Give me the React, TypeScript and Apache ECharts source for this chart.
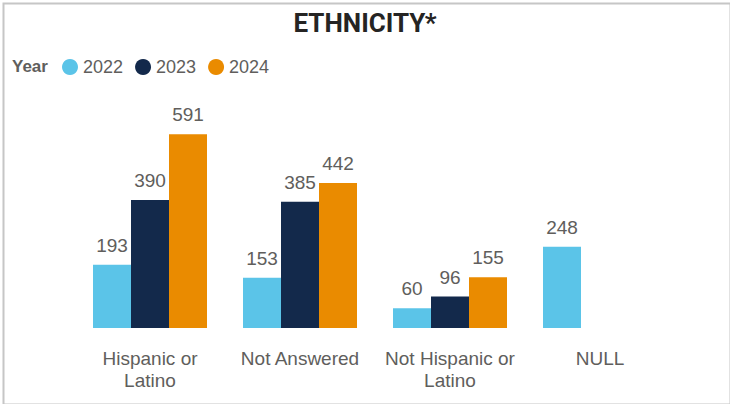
import React, { useEffect, useRef } from "react";
import * as echarts from "echarts";

const categories = ["Hispanic or Latino", "Not Answered", "Not Hispanic or Latino", "NULL"];
const years = ["2022", "2023", "2024"];
const values2022 = [193, 153, 60, 248];
const values2023 = [390, 385, 96, null];
const values2024 = [591, 442, 155, null];
const colors = ["#5bc4e8", "#13294b", "#ea8b00"];

export default function App() {
  const ref = useRef<HTMLDivElement>(null);
  useEffect(() => {
    if (!ref.current) return;
    const chart = echarts.init(ref.current, null, { renderer: "svg" });
    const seriesData = [values2022, values2023, values2024];
    const font = "'Liberation Sans', Arial, sans-serif";
    chart.setOption({
      animation: false,
      backgroundColor: "#ffffff",
      title: {
        text: "ETHNICITY*",
        left: "center",
        top: 5,
        textStyle: { fontFamily: "Roboto, 'Liberation Sans', sans-serif", fontWeight: "bold", fontSize: 26, color: "#252423" },
      },
      graphic: [
        {
          type: "rect",
          left: 1,
          top: 1,
          shape: { x: 0, y: 0, width: 727, height: 401 },
          style: { fill: "none", stroke: "#c6c6c6", lineWidth: 2 },
          silent: true,
        },
        {
          type: "text",
          left: 12,
          top: 58,
          style: { text: "Year", fontFamily: font, fontWeight: "bold", fontSize: 17, fill: "#605e5c" },
        },
      ],
      legend: {
        left: 62,
        top: 58,
        icon: "circle",
        itemWidth: 16,
        itemHeight: 16,
        itemGap: 12,
        textStyle: { fontFamily: font, fontSize: 18, color: "#605e5c", padding: [0, 0, 0, 0] },
        padding: 0,
        data: years,
      },
      grid: { left: 75, right: 55, top: 98.4, bottom: 76 },
      xAxis: {
        type: "category",
        data: categories,
        axisLine: { show: false },
        axisTick: { show: false },
        axisLabel: {
          fontFamily: font,
          fontSize: 19,
          color: "#605e5c",
          lineHeight: 22,
          margin: 19,
          interval: 0,
          formatter: (v: string) => v.replace(" or ", " or\n"),
        },
      },
      yAxis: { type: "value", min: 0, max: 700, show: false, splitLine: { show: false } },
      series: years.map((y, i) => ({
        name: y,
        type: "bar",
        data: seriesData[i],
        barWidth: 38,
        barGap: "0%",
        itemStyle: { color: colors[i] },
        label: {
          show: true,
          position: "top",
          distance: 10,
          fontFamily: font,
          fontSize: 19,
          color: "#605e5c",
        },
      })),
    });
    return () => chart.dispose();
  }, []);
  return <div ref={ref} style={{ position: "absolute", left: 0, top: 0, width: 730, height: 404 }} />;
}
